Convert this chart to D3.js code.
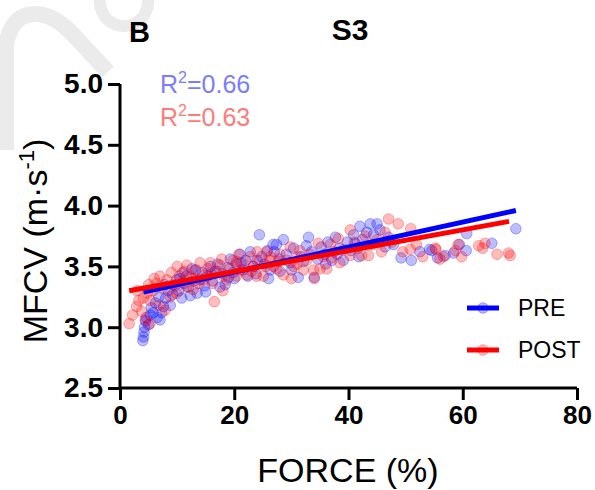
<!DOCTYPE html>
<html>
<head>
<meta charset="utf-8">
<script src="https://cdn.jsdelivr.net/npm/d3@7"></script>
<style>
  body { margin: 0; background: #fff; }
  text { font-family: "Liberation Sans", Arial, sans-serif; }
</style>
</head>
<body>
<script>
const width = 595,
      height = 490;

// force (%) vs MFCV
const prePoints = [
  [4.0,2.89],[4.1,2.92],[4.2,2.96],[4.3,3.00],[4.5,3.05],[4.6,3.08],[5.0,3.02],[5.3,3.10],
  [5.5,3.16],[5.8,3.12],[6.2,3.20],[6.5,3.08],[6.8,3.25],[7.0,3.06],[7.3,3.12],[7.6,3.17],
  [8.0,3.24],[8.4,3.30],[8.8,3.18],[9.2,3.27],[9.6,3.34],[9.9,3.39],[10.3,3.30],[10.5,3.40],
  [10.8,3.24],[11.2,3.36],[11.6,3.42],[12.0,3.33],[12.3,3.26],[12.6,3.48],[13.0,3.38],[13.5,3.28],
  [14.0,3.39],[14.4,3.45],[14.8,3.34],[15.0,3.29],[15.3,3.42],[15.8,3.50],[16.2,3.38],[16.7,3.46],
  [17.1,3.52],[17.5,3.33],[18.0,3.44],[18.4,3.35],[18.9,3.49],[19.3,3.56],[19.8,3.45],[20.0,3.40],
  [20.4,3.52],[21.0,3.60],[21.5,3.47],[22.0,3.55],[22.4,3.42],[22.8,3.62],[23.3,3.50],[23.8,3.44],
  [24.4,3.76],[24.8,3.58],[25.3,3.52],[25.8,3.63],[26.0,3.40],[26.3,3.47],[26.8,3.68],[27.4,3.68],
  [27.9,3.56],[28.0,3.46],[28.6,3.72],[29.1,3.60],[29.8,3.53],[30.0,3.47],[30.4,3.65],[31.2,3.41],
  [31.7,3.58],[32.1,3.54],[32.6,3.67],[33.0,3.74],[33.5,3.62],[34.0,3.41],[34.6,3.56],[35.2,3.66],
  [35.8,3.60],[36.0,3.52],[36.4,3.70],[37.1,3.55],[37.7,3.74],[38.0,3.60],[38.4,3.65],[39.1,3.55],
  [39.8,3.70],[40.4,3.63],[40.9,3.76],[41.2,3.69],[41.8,3.58],[42.0,3.83],[42.5,3.72],[43.2,3.78],
  [43.8,3.85],[44.4,3.76],[45.0,3.85],[45.5,3.80],[46.4,3.66],[47.0,3.74],[47.9,3.68],[49.2,3.57],
  [51.0,3.55],[52.5,3.62],[54.2,3.64],[54.6,3.63],[55.6,3.57],[56.9,3.59],[58.4,3.61],[59.4,3.68],
  [60.6,3.63],[60.7,3.77],[65.1,3.69],[69.3,3.81],
  [7.8,3.35],[11.0,3.45],[13.2,3.47],[16.0,3.44],[19.0,3.41],[21.2,3.53],[24.0,3.55],[27.0,3.62]
];

const postPoints = [
  [1.6,3.03],[2.2,3.10],[2.9,3.17],[3.0,3.30],[3.3,3.22],[3.8,3.13],[4.1,3.24],[4.4,3.06],
  [4.8,3.28],[5.25,3.03],[5.25,3.22],[5.8,3.30],[6.0,3.40],[6.4,3.36],[6.9,3.18],[7.4,3.32],
  [7.9,3.14],[8.2,3.39],[8.8,3.25],[9.0,3.45],[9.3,3.35],[9.9,3.28],[10.4,3.42],[10.9,3.37],
  [11.3,3.46],[11.7,3.51],[11.7,3.33],[12.3,3.42],[12.8,3.31],[13.3,3.47],[13.8,3.36],[14.0,3.53],
  [14.6,3.39],[15.1,3.44],[15.8,3.53],[16.2,3.36],[16.5,3.21],[17.0,3.46],[17.5,3.51],[18.0,3.30],
  [18.1,3.42],[18.7,3.39],[19.2,3.48],[19.8,3.55],[20.4,3.42],[20.4,3.54],[21.0,3.47],[21.6,3.51],
  [22.2,3.43],[22.8,3.58],[23.4,3.50],[23.9,3.42],[24.0,3.62],[24.5,3.55],[25.1,3.42],[25.7,3.62],
  [26.3,3.55],[26.3,3.58],[26.9,3.50],[27.4,3.48],[28.0,3.60],[28.6,3.43],[29.2,3.55],[29.8,3.66],
  [30.0,3.40],[30.4,3.50],[31.0,3.58],[31.5,3.63],[32.1,3.47],[32.7,3.55],[33.3,3.60],[33.9,3.47],
  [34.0,3.40],[34.7,3.69],[35.0,3.48],[35.6,3.58],[36.2,3.48],[36.8,3.68],[37.4,3.62],[38.2,3.73],
  [38.5,3.53],[39.2,3.64],[40.3,3.59],[40.3,3.80],[41.0,3.70],[41.6,3.65],[42.3,3.59],[42.9,3.75],
  [43.5,3.59],[44.2,3.68],[45.0,3.72],[45.8,3.62],[46.4,3.78],[47.0,3.89],[47.6,3.70],[48.7,3.85],
  [49.5,3.62],[50.8,3.64],[50.9,3.81],[51.9,3.68],[53.0,3.58],[55.2,3.65],[55.3,3.64],[56.0,3.56],
  [56.6,3.58],[58.7,3.63],[59.2,3.68],[59.8,3.58],[62.8,3.67],[63.5,3.65],[63.9,3.69],[66.0,3.60],
  [68.0,3.61],[68.3,3.59],
  [5.0,3.35],[7.0,3.42],[10.0,3.50],[12.8,3.40],[15.4,3.48],[17.8,3.56],[20.8,3.60],[23.0,3.46],
  [25.5,3.50],[27.8,3.54],[31.0,3.52],[37.0,3.57]
];

// fitted lines, end points as drawn
const preFit = [[4.1, 3.29], [69.3, 3.96]];
const postFit = [[1.6, 3.30], [68.1, 3.87]];

const xTicks = [0, 20, 40, 60, 80];
const yTicks = [2.5, 3.0, 3.5, 4.0, 4.5, 5.0];
const seriesNames = ["PRE", "POST"];
const r2Labels = ["0.66", "0.63"];

const svg = d3.select("body")
              .append("svg")
              .attr("width", width)
              .attr("height", height);

// faint watermark in the corner
var wm = svg.append("g")
            .attr("fill", "none")
            .attr("stroke", "#ebebeb");
wm.append("path")
  .attr("d", "M6,150 L6,45 Q12,12 38,14 Q58,16 78,40 L108,72")
  .attr("stroke-width", 16);
wm.append("circle")
  .attr("cx", 124).attr("cy", 2).attr("r", 24)
  .attr("stroke-width", 12);

const x = d3.scaleLinear().domain([0, 80]).range([120, 577]),
      y = d3.scaleLinear().domain([2.5, 5.0]).range([388, 84]);

const colors = { PRE: "#0000ff", POST: "#ff0000" };

// axes
var yAxis = svg.append("g")
   .attr("transform", "translate(120,0)")
   .call(d3.axisLeft(y).tickValues(yTicks).tickFormat(d3.format(".1f")).tickSize(12).tickPadding(5));
var xAxis = svg.append("g")
   .attr("transform", "translate(0,388)")
   .call(d3.axisBottom(x).tickValues(xTicks).tickFormat(d3.format("d")).tickSize(12).tickPadding(6));

[xAxis, yAxis].forEach(function(a) {
    a.select(".domain").attr("stroke", "#000").attr("stroke-width", 3);
    a.selectAll(".tick line").attr("stroke", "#000").attr("stroke-width", 3);
    a.selectAll(".tick text")
     .attr("fill", "#000")
     .style("font-family", "'Liberation Sans', Arial, sans-serif")
     .style("font-weight", "bold");
});
yAxis.selectAll(".tick text").style("font-size", "28px");
xAxis.selectAll(".tick text").style("font-size", "26px");
// d3 axis ends the domain with the tick size, redraw as plain line
yAxis.select(".domain").attr("d", "M0," + y(5.0) + "V" + y(2.5));
xAxis.select(".domain").attr("d", "M" + x(0) + ",0H" + x(80));

// scatter
function drawPoints(data, col) {
    svg.append("g")
       .selectAll("circle")
       .data(data)
       .enter()
       .append("circle")
       .attr("cx", d => x(d[0]))
       .attr("cy", d => y(d[1]))
       .attr("r", 5.3)
       .attr("fill", col)
       .attr("fill-opacity", 0.26)
       .attr("stroke", col)
       .attr("stroke-opacity", 0.3)
       .attr("stroke-width", 1);
}
drawPoints(prePoints, colors.PRE);
drawPoints(postPoints, colors.POST);

const line = d3.line().x(d => x(d[0])).y(d => y(d[1]));
svg.append("path").datum(preFit)
   .attr("d", line).attr("stroke", colors.PRE).attr("stroke-width", 5).attr("fill", "none");
svg.append("path").datum(postFit)
   .attr("d", line).attr("stroke", colors.POST).attr("stroke-width", 5).attr("fill", "none");

// r squared
const r2Colors = ["#7b7bff", "#ff7b7b"];
r2Labels.forEach(function(v, i) {
    var t = svg.append("text")
       .attr("x", 160)
       .attr("y", 93 + i * 33)
       .attr("fill", r2Colors[i])
       .style("font-size", "25px");
    t.append("tspan").text("R");
    t.append("tspan").attr("dy", -10).style("font-size", "16px").text("2");
    t.append("tspan").attr("dy", 10).text("=" + v);
});

// legend
seriesNames.forEach(function(name, i) {
    var ly = 308 + i * 42;
    var g = svg.append("g");
    g.append("line")
     .attr("x1", 467).attr("x2", 499)
     .attr("y1", ly).attr("y2", ly)
     .attr("stroke", colors[name]).attr("stroke-width", 5);
    g.append("circle")
     .attr("cx", 483).attr("cy", ly).attr("r", 5.3)
     .attr("fill", colors[name]).attr("fill-opacity", 0.26)
     .attr("stroke", colors[name]).attr("stroke-opacity", 0.3);
    g.append("text")
     .attr("x", 518).attr("y", ly + 8)
     .style("font-size", "23px")
     .text(name);
});

// titles
svg.append("text")
   .attr("x", 129).attr("y", 42)
   .style("font-size", "29px").style("font-weight", "bold")
   .text("B");
svg.append("text")
   .attr("x", 350).attr("y", 40)
   .attr("text-anchor", "middle")
   .style("font-size", "30px").style("font-weight", "bold")
   .text("S3");

svg.append("text")
   .attr("x", 348).attr("y", 482)
   .attr("text-anchor", "middle")
   .style("font-size", "34px")
   .text("FORCE (%)");

var yl = svg.append("text")
   .attr("transform", "translate(47,241) rotate(-90)")
   .attr("text-anchor", "middle")
   .style("font-size", "34px");
yl.append("tspan").text("MFCV (m\u00b7s");
yl.append("tspan").attr("dy", -13).style("font-size", "22px").text("-1");
yl.append("tspan").attr("dy", 13).text(")");
</script>
</body>
</html>
